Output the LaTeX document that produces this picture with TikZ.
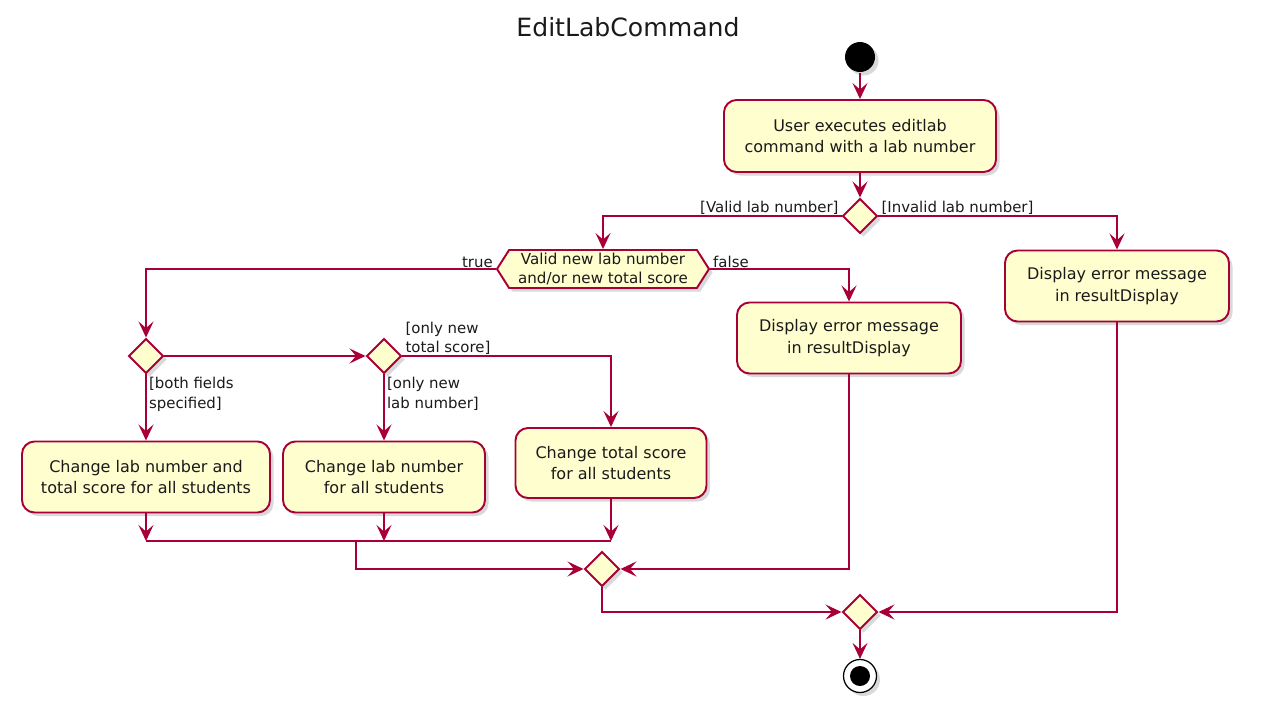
\documentclass[tikz,border=0pt]{standalone}
\usepackage{fontspec}
\setmainfont{DejaVu Sans}
\usepackage{tikz}
\usetikzlibrary{positioning,arrows.meta,shapes.geometric,shapes.symbols,shadows}

\definecolor{umlline}{HTML}{A80036}
\definecolor{umlfill}{HTML}{FEFECE}
\definecolor{umltext}{HTML}{1A1A1A}

\tikzset{
  umlshadow/.style={drop shadow={shadow xshift=0.07cm,shadow yshift=-0.07cm,opacity=0.3}},
  action/.style={rectangle,rounded corners=0.25cm,draw=umlline,fill=umlfill,line width=1.1pt,
    umlshadow,align=center,inner sep=0pt,text=umltext,font=\fontsize{9.1}{12.1}\selectfont},
  decision/.style={diamond,aspect=1,draw=umlline,fill=umlfill,line width=1.1pt,
    umlshadow,minimum size=0.7cm,inner sep=0pt},
  question/.style={signal,signal to=east and west,signal pointer angle=115,draw=umlline,
    fill=umlfill,line width=1.1pt,umlshadow,align=center,inner sep=0pt,text=umltext,
    minimum width=4.24cm,minimum height=0.76cm,font=\fontsize{8.6}{11}\selectfont},
  guard/.style={font=\fontsize{8.5}{11}\selectfont,inner sep=1.2pt,align=left,text=umltext},
  guardup/.style={guard,inner ysep=0.2pt},
}

\begin{document}
\begin{tikzpicture}[>={Stealth[length=0.32cm,width=0.3cm,inset=0.13cm]},
  line width=1.1pt,on grid]
  \useasboundingbox (0,0) rectangle (25.68,-14.08);

  % Title
  \node[font=\fontsize{14.3}{17}\selectfont,text=umltext] (title) at (12.56,-0.54) {EditLabCommand};

  % Nodes
  \node[circle,fill=black,minimum size=0.6cm,inner sep=0pt,umlshadow] (start) at (17.2,-1.14) {};
  \node[action,minimum width=5.44cm,minimum height=1.44cm] (exec) [below=1.58cm of start]
    {User executes editlab\\command with a lab number};
  \node[decision] (valid) [below=1.6cm of exec] {};
  \node[action,minimum width=4.48cm,minimum height=1.42cm] (errB) [below right=1.4cm and 5.14cm of valid]
    {Display error message\\in resultDisplay};
  \node[question] (newval) [below left=1.06cm and 5.14cm of valid]
    {Valid new lab number\\and/or new total score};
  \node[action,minimum width=4.48cm,minimum height=1.42cm] (errA) [below right=1.38cm and 4.92cm of newval]
    {Display error message\\in resultDisplay};
  \node[decision] (both) [below left=1.74cm and 9.14cm of newval] {};
  \node[decision] (which) [right=4.76cm of both] {};
  \node[action,minimum width=4.96cm,minimum height=1.42cm] (chgboth) [below=2.42cm of both]
    {Change lab number and\\total score for all students};
  \node[action,minimum width=4.04cm,minimum height=1.42cm] (chglab) [below=2.42cm of which]
    {Change lab number\\for all students};
  \node[action,minimum width=3.82cm,minimum height=1.40cm] (chgscore) [below right=2.14cm and 4.54cm of which]
    {Change total score\\for all students};
  \node[decision] (mergeA) [below left=2.12cm and 0.18cm of chgscore] {};
  \node[decision] (mergeB) [below=7.92cm of valid] {};
  \node[circle,draw=black,fill=white,line width=0.7pt,minimum size=0.66cm,inner sep=0pt,umlshadow]
    (stop) [below=1.28cm of mergeB] {};
  \fill[black] (stop) circle (0.2cm);
  \coordinate (join) at (7.12,-10.82);

  % Transitions
  \draw[->,umlline] (start) -- (exec);
  \draw[->,umlline] (exec) -- (valid);
  \draw[->,umlline] (valid.west) node[guardup,above left] {[Valid lab number]} -| (newval.north);
  \draw[->,umlline] (valid.east) node[guardup,above right] {[Invalid lab number]} -| (errB.north);
  \draw[->,umlline] (newval.west) node[guardup,above left] {true} -| (both.north);
  \draw[->,umlline] (newval.east) node[guardup,above right] {false} -| (errA.north);
  \draw[->,umlline] (both.east) -- (which.west);
  \draw[->,umlline] (both.south) node[guard,below right] {[both fields\\specified]} -- (chgboth.north);
  \draw[->,umlline] (which.south) node[guard,below right] {[only new\\lab number]} -- (chglab.north);
  \draw[->,umlline] (which.east) node[guardup,above right] {[only new\\total score]} -| (chgscore.north);

  \draw[->,umlline] (chgboth.south) -- (chgboth.south |- join);
  \draw[->,umlline] (chglab.south) -- (chglab.south |- join);
  \draw[->,umlline] (chgscore.south) -- (chgscore.south |- join);
  \draw[umlline] (chgboth.south |- join) -- (chgscore.south |- join);
  \draw[->,umlline] (join) |- (mergeA.west);
  \draw[->,umlline] (errA.south) |- (mergeA.east);
  \draw[->,umlline] (mergeA.south) |- (mergeB.west);
  \draw[->,umlline] (errB.south) |- (mergeB.east);
  \draw[->,umlline] (mergeB) -- (stop);

\end{tikzpicture}
\end{document}
